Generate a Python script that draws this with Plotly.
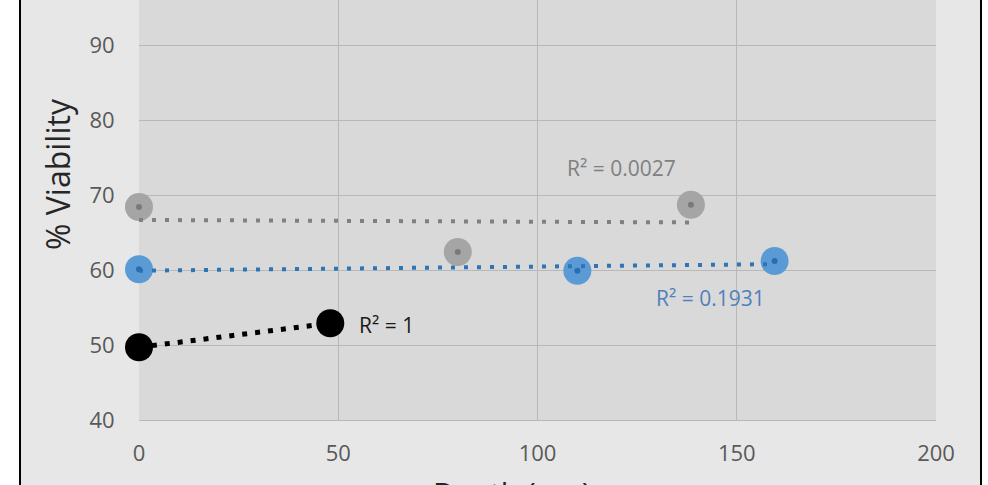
import numpy as np
import plotly.graph_objects as go

# ---- data ----
depth_black = [0, 48]
viab_black = [49.7, 52.9]

depth_gray = [0, 80, 138.5]
viab_gray = [68.4, 62.4, 68.7]

depth_blue = [0, 110, 159.5]
viab_blue = [60.1, 59.9, 61.2]

r2_black = "R² = 1"
r2_gray = "R² = 0.0027"
r2_blue = "R² = 0.1931"

x_ticks = [0, 50, 100, 150, 200]
y_ticks = [40, 50, 60, 70, 80, 90]

FONT = "Open Sans"

# ---- layout geometry ----
W, H = 988, 485
ML, MR, MT, MB = 139, 52, 0, 65
PW = W - ML - MR
PH = H - MT - MB


def px_x(p):
    return (p - ML) / PW


def px_y(p):
    return (H - MB - p) / PH


def trend(x, y):
    k, b = np.polyfit(x, y, 1)
    xs = np.array([min(x), max(x)])
    return xs, k * xs + b


fig = go.Figure()

# big markers
for xs, ys, col in [(depth_gray, viab_gray, "#a5a5a5"),
                    (depth_blue, viab_blue, "#5b9bd5"),
                    (depth_black, viab_black, "#000000")]:
    fig.add_trace(go.Scatter(x=xs, y=ys, mode="markers", cliponaxis=False,
                             marker=dict(size=28, color=col, line=dict(width=0)),
                             showlegend=False, hoverinfo="skip"))

# dotted trendlines
for xs, ys, col, w in [(depth_gray, viab_gray, "#808080", 4),
                       (depth_blue, viab_blue, "#2e75b6", 4),
                       (depth_black, viab_black, "#000000", 5)]:
    tx, ty = trend(xs, ys)
    fig.add_trace(go.Scatter(x=tx, y=ty, mode="lines", cliponaxis=False,
                             line=dict(color=col, width=w, dash="%dpx,%dpx" % (w, 13 - w)),
                             showlegend=False, hoverinfo="skip"))

# small inner dots
for xs, ys, col in [(depth_gray, viab_gray, "#7a7a7a"),
                    (depth_blue, viab_blue, "#2a6db0")]:
    fig.add_trace(go.Scatter(x=xs, y=ys, mode="markers", cliponaxis=False,
                             marker=dict(size=6, color=col),
                             showlegend=False, hoverinfo="skip"))

ann = []
ann.append(dict(x=62.2, y=52.7, xref="x", yref="y", text=r2_black, showarrow=False,
                font=dict(family=FONT, size=21, color="#1a1a1a")))
ann.append(dict(x=121, y=73.6, xref="x", yref="y", text=r2_gray, showarrow=False,
                font=dict(family=FONT, size=21, color="#808080")))
ann.append(dict(x=143.3, y=56.3, xref="x", yref="y", text=r2_blue, showarrow=False,
                font=dict(family=FONT, size=21, color="#4f81bd")))
ann.append(dict(x=px_x(57), y=px_y(174), xref="paper", yref="paper", text="% Viability",
                textangle=-90, showarrow=False, xanchor="center", yanchor="middle",
                font=dict(family=FONT, size=32, color="#262626")))
ann.append(dict(x=px_x(512), y=px_y(470), xref="paper", yref="paper", text="Depth (μm)",
                showarrow=False, xanchor="center", yanchor="top",
                font=dict(family=FONT, size=30, color="#262626")))

shapes = [dict(type="rect", xref="paper", yref="paper",
               x0=px_x(20), x1=px_x(981), y0=-1, y1=2,
               fillcolor="#e7e7e7", line=dict(color="#000000", width=2), layer="below"),
          dict(type="rect", xref="paper", yref="paper",
               x0=0, x1=1, y0=0, y1=1.2,
               fillcolor="#d9d9d9", line=dict(width=0), layer="below")]

fig.update_layout(
    width=W, height=H,
    margin=dict(l=ML, r=MR, t=MT, b=MB, pad=0),
    paper_bgcolor="#ffffff",
    plot_bgcolor="#d9d9d9",
    annotations=ann,
    shapes=shapes,
    showlegend=False,
    xaxis=dict(range=[0, 200], tickvals=x_ticks, showgrid=True, gridcolor="#b8b8b8",
               gridwidth=1, zeroline=False, showline=True, linecolor="#b8b8b8",
               ticks="outside", ticklen=14, tickcolor="rgba(0,0,0,0)",
               tickfont=dict(family=FONT, size=22, color="#595959")),
    yaxis=dict(range=[40, 96], tickvals=y_ticks, showgrid=True, gridcolor="#b8b8b8",
               gridwidth=1, zeroline=False, showline=False,
               ticks="outside", ticklen=19, tickcolor="rgba(0,0,0,0)",
               tickfont=dict(family=FONT, size=22, color="#595959")),
)

fig.write_html("out.html")
